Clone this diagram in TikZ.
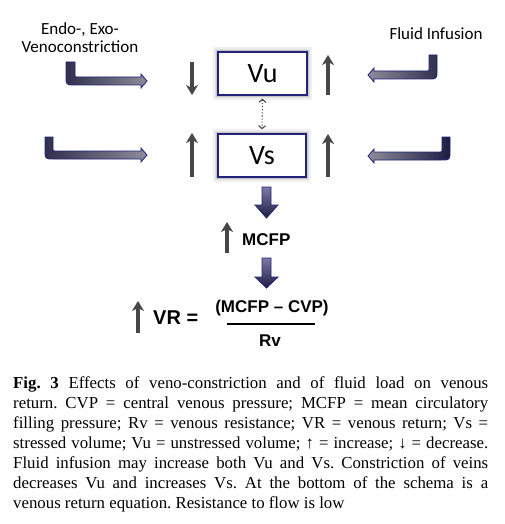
\documentclass[tikz,border=0pt]{standalone}
\usepackage{fontspec}
\setmainfont{Liberation Serif}
\newfontfamily\calfont{Carlito}
\newfontfamily\arialfont{Liberation Sans}
\usetikzlibrary{arrows.meta}
\definecolor{boxnavy}{HTML}{22227A}
\definecolor{arrdark}{HTML}{1C1C42}
\definecolor{arrlight}{HTML}{9696A6}
\definecolor{bentdark}{HTML}{30304E}
\definecolor{bentmid}{HTML}{66667A}
\definecolor{bentlight}{HTML}{8C8C9A}
\definecolor{indgray}{HTML}{474747}
\tikzset{
  volbox/.style={draw=boxnavy, line width=1.3pt, fill=white, minimum width=88pt, minimum height=43pt, inner sep=0pt, font=\calfont\fontsize{28}{30}\selectfont},
  glowA/.style={draw=gray!12, line width=10pt},
  glowB/.style={draw=gray!25, line width=6.5pt},
  glowC/.style={draw=gray!45, line width=3.5pt},
  indarrow/.style={draw=indgray, line width=3.4pt, -{Stealth[length=10pt,width=12pt,inset=3pt]}},
  toplabel/.style={font=\calfont\fontsize{17}{18}\selectfont, align=center, inner sep=0pt},
  eqtext/.style={font=\arialfont\bfseries\fontsize{17}{20}\selectfont, inner sep=0pt},
  bentarrow/.style={draw=boxnavy, line width=0.8pt},
  blockarrow/.style={draw=boxnavy, line width=0.8pt, top color=arrlight!80!blue!70!gray, bottom color=arrdark},
}
\begin{document}
\begin{tikzpicture}[x=1pt,y=-1pt]
\useasboundingbox (0,0) rectangle (504,524);
\fill[white] (0,0) rectangle (504,524);

% labels
\node[toplabel, anchor=base] (endo) at (80,35) {Endo-, Exo-};
\node[toplabel, anchor=base] (veno) at (80,53) {Venoconstriction};
\node[toplabel, anchor=base] (fluid) at (436,40) {Fluid Infusion};

% boxes with glow
\foreach \g in {glowA,glowB,glowC}{
  \draw[\g] (218,52) rectangle (307,95);
  \draw[\g] (218,134) rectangle (306,177);
}
\node[volbox, minimum width=89pt] (vu) at (262.5,73.5) {Vu};
\node[volbox] (vs) at (262,155.5) {Vs};

% dotted double arrow
\draw[indgray, line width=1.1pt, dotted, {Straight Barb[length=3pt,width=7pt]}-{Straight Barb[length=3pt,width=7pt]}] ([yshift=-3pt]vu.south) -- ([yshift=4pt]vs.north);

% indicator arrows
\coordinate (ldA) at (192,62); \coordinate (ldB) at (192,95);
\coordinate (luA) at (192,177); \coordinate (luB) at (192,133);
\coordinate (ruA) at (328,95); \coordinate (ruB) at (328,55);
\coordinate (rvA) at (328,177); \coordinate (rvB) at (328,134);
\draw[indarrow] (ldA) -- (ldB);
\draw[indarrow] (luA) -- (luB);
\draw[indarrow] (ruA) -- (ruB);
\draw[indarrow] (rvA) -- (rvB);

% bent arrows
\shadedraw[bentarrow, left color=bentdark, middle color=bentmid, right color=bentlight]
 (66,62) -- (66,76) .. controls (66,85) .. (75,85) -- (141,85) -- (141,88) -- (147,81) -- (141,74) -- (141,77) -- (77,77) .. controls (75,77) .. (75,75) -- (75,62) -- cycle;
\shadedraw[bentarrow, left color=bentdark, middle color=bentmid, right color=bentlight]
 (45,137) -- (45,150) .. controls (45,159) .. (54,159) -- (141,159) -- (141,162) -- (147,155) -- (141,148) -- (141,151) -- (55,151) .. controls (53,151) .. (53,149) -- (53,137) -- cycle;
\shadedraw[bentarrow, right color=bentdark, middle color=bentmid, left color=bentlight]
 (437,55) -- (437,70) .. controls (437,79) .. (428,79) -- (374,79) -- (374,82) -- (368,75) -- (374,68) -- (374,71) -- (427,71) .. controls (429,71) .. (429,69) -- (429,55) -- cycle;
\shadedraw[bentarrow, right color=arrdark, middle color=bentmid, left color=bentlight]
 (450,137) -- (450,151) .. controls (450,160) .. (441,160) -- (374,160) -- (374,163) -- (368,156) -- (374,149) -- (374,152) -- (440,152) .. controls (442,152) .. (442,150) -- (442,137) -- cycle;

% block arrows
\shadedraw[blockarrow] (262,187) -- (271,187) -- (271,205) -- (278,205) -- (266.5,218) -- (255,205) -- (262,205) -- cycle;
\shadedraw[blockarrow] (262,258) -- (271,258) -- (271,277) -- (278,277) -- (266.5,288) -- (255,277) -- (262,277) -- cycle;

% MCFP
\node[eqtext, anchor=west] (mcfp) at (242,240) {MCFP};
\coordinate (mA) at (227,253); \coordinate (mB) at (227,222);
\draw[indarrow] (mA) -- (mB);

% equation
\node[eqtext, font=\arialfont\bfseries\fontsize{20}{22}\selectfont, anchor=west] (vr) at (153,318) {VR =};
\coordinate (vA) at (138,333); \coordinate (vB) at (138,301);
\draw[indarrow] (vA) -- (vB);
\node[eqtext] (num) at (272,308) {(MCFP – CVP)};
\node[eqtext] (den) at (270,341) {Rv};
\coordinate (fl) at (227,324); \coordinate (fr) at (315,324);
\draw[black, line width=1.4pt] (fl) -- (fr);

% caption
\node[anchor=north west, inner sep=0pt, text width=475pt, align=justify,
      font=\fontsize{16.8}{20}\selectfont\frenchspacing] (cap) at (13,376) {%
\textbf{Fig. 3} Effects of veno-constriction and of fluid load on venous\linebreak
return. CVP = central venous pressure; MCFP = mean circulatory\linebreak
filling pressure; Rv = venous resistance; VR = venous return; Vs =\linebreak
stressed volume; Vu = unstressed volume; ↑ = increase; ↓ = decrease.\linebreak
Fluid infusion may increase both Vu and Vs. Constriction of veins\linebreak
decreases Vu and increases Vs. At the bottom of the schema is a\linebreak
venous return equation. Resistance to flow is low};
\end{tikzpicture}
\end{document}
